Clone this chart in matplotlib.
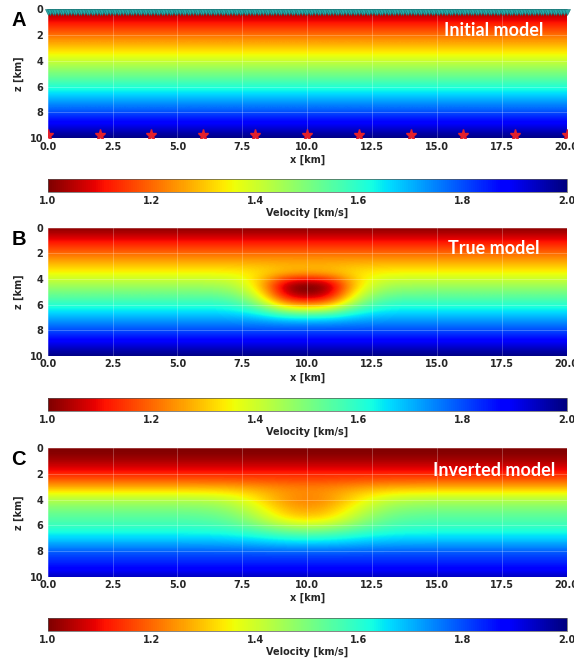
import numpy as np
import matplotlib.pyplot as plt

# model grid nodes (km)
x_nodes = np.arange(0, 20.25, 0.5)
z_nodes = np.arange(0, 10.25, 0.5)

# velocity (km/s) read at z = 0, 0.5, ..., 10
v_initial = [1.00, 1.05, 1.10, 1.15, 1.20, 1.25, 1.30, 1.35, 1.40, 1.45, 1.50,
             1.55, 1.60, 1.65, 1.70, 1.75, 1.80, 1.85, 1.90, 1.95, 2.00]

# low-velocity lens of the true model: depth part (z nodes) and lateral weight (x nodes)
true_dip_z = [0, 0, 0, 0, 0, 0, -0.02, -0.08, -0.27, -0.45, -0.50,
              -0.47, -0.36, -0.20, -0.08, -0.02, 0, 0, 0, 0, 0]
true_dip_x = [0] * 13 + [0.01, 0.04, 0.12, 0.27, 0.52, 0.80, 0.96, 1.00,
                         0.96, 0.80, 0.52, 0.27, 0.12, 0.04, 0.01] + [0] * 13

# inverted model: background column and smeared anomaly
inv_background = [1.00, 1.01, 1.04, 1.08, 1.13, 1.19, 1.27, 1.36, 1.43, 1.48, 1.52,
                  1.55, 1.58, 1.62, 1.67, 1.72, 1.78, 1.82, 1.85, 1.89, 1.95]
inv_dip_z = [0, 0, 0, 0, 0, -0.02, -0.05, -0.12, -0.20, -0.23, -0.24,
             -0.22, -0.16, -0.10, -0.06, -0.03, -0.01, 0, 0, 0, 0]
inv_dip_x = [0] * 11 + [0.01, 0.03, 0.07, 0.15, 0.28, 0.45, 0.65, 0.83, 0.96, 1.00,
                        0.96, 0.83, 0.65, 0.45, 0.28, 0.15, 0.07, 0.03, 0.01] + [0] * 11

# acquisition
src_x = [0, 2, 4, 6, 8, 10, 12, 14, 16, 18, 20]
src_z = 9.75
rec_x = np.arange(0, 20.05, 0.1)
rec_z = 0.22

x_ticks = [0, 2.5, 5, 7.5, 10, 12.5, 15, 17.5, 20]
z_ticks = [0, 2, 4, 6, 8, 10]
cb_ticks = [1.0, 1.2, 1.4, 1.6, 1.8, 2.0]

initial = np.tile(np.array(v_initial)[:, None], (1, len(x_nodes)))
true = initial + np.outer(true_dip_z, true_dip_x)
inverted = np.array(inv_background)[:, None] + np.outer(inv_dip_z, inv_dip_x)

txt = "#262626"
fs = 7


def draw_panel(fig, ax, cax, model, letter, title, title_y):
    im = ax.imshow(model, cmap="jet_r", vmin=1.0, vmax=2.0, aspect="auto",
                   extent=(-0.25, 20.25, 10.25, -0.25), interpolation="bicubic")
    ax.set_xlim(0, 20)
    ax.set_ylim(10, 0)
    ax.set_xticks(x_ticks)
    ax.set_xticklabels([f"{v:.1f}" for v in x_ticks])
    ax.set_yticks(z_ticks)
    ax.set_yticklabels([str(v) for v in z_ticks])
    ax.grid(color="white", alpha=0.28, lw=0.6)
    ax.tick_params(length=0, labelsize=fs, labelcolor=txt)
    ax.tick_params(axis="x", pad=2.5)
    ax.tick_params(axis="y", pad=3.2)
    for lab in ax.get_xticklabels() + ax.get_yticklabels():
        lab.set_fontweight("bold")
    for s in ax.spines.values():
        s.set_visible(False)
    ax.set_xlabel("x [km]", fontsize=fs, fontweight="bold", color=txt, labelpad=2)
    ax.set_ylabel("z [km]", fontsize=fs, fontweight="bold", color=txt, labelpad=4)
    ax.text(0.86, title_y, title, transform=ax.transAxes, color="white",
            family="Lato", fontweight="bold", fontsize=13, ha="center", va="center")
    ax.text(-0.056, 0.91, letter, transform=ax.transAxes, color="black",
            family="Liberation Sans", fontweight="bold", fontsize=14.5,
            ha="center", va="center")

    cb = fig.colorbar(im, cax=cax, orientation="horizontal", ticks=cb_ticks)
    cb.ax.set_xticklabels([f"{v:.1f}" for v in cb_ticks])
    cb.ax.tick_params(length=0, labelsize=fs, labelcolor=txt, pad=3)
    for lab in cb.ax.get_xticklabels():
        lab.set_fontweight("bold")
    cb.outline.set_linewidth(0.5)
    cb.outline.set_edgecolor("#555555")
    cb.set_label("Velocity [km/s]", fontsize=fs, fontweight="bold", color=txt, labelpad=1)
    return ax


fig = plt.figure(figsize=(5.74, 6.6), dpi=100)
left, width = 0.0831, 0.904
ax_a = fig.add_axes([left, 0.7905, width, 0.1955])
cax_a = fig.add_axes([left, 0.7095, width, 0.0188])
ax_b = fig.add_axes([left, 0.4606, width, 0.1947])
cax_b = fig.add_axes([left, 0.3773, width, 0.0192])
ax_c = fig.add_axes([left, 0.1262, width, 0.1945])
cax_c = fig.add_axes([left, 0.0439, width, 0.0192])

draw_panel(fig, ax_a, cax_a, initial, "A", "Initial model", 0.837)
draw_panel(fig, ax_b, cax_b, true, "B", "True model", 0.838)
draw_panel(fig, ax_c, cax_c, inverted, "C", "Inverted model", 0.826)

ax_a.plot(rec_x, np.full(len(rec_x), rec_z), ls="none", marker="v", ms=4.8,
          mfc="#2aa9a9", mec="#177575", mew=0.4, clip_on=False, zorder=4)
ax_a.plot(src_x, np.full(len(src_x), src_z), ls="none", marker="*", ms=8,
          color="#e3202b", zorder=5)

fig.savefig("out.png", dpi=100)
